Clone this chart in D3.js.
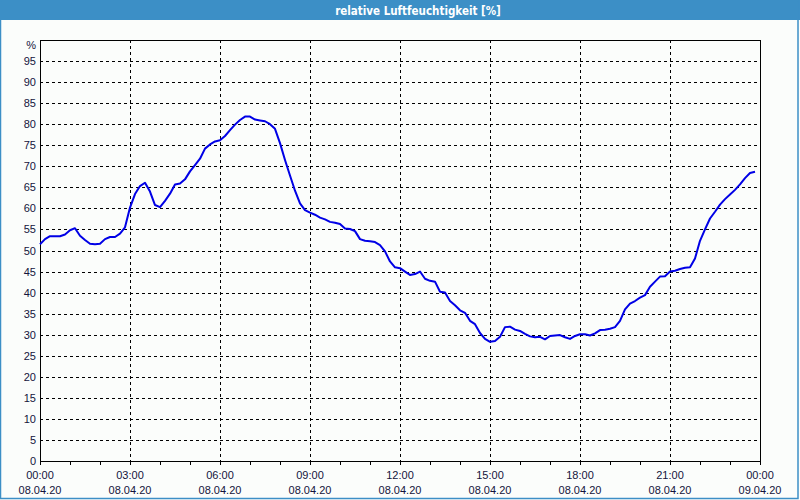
<!DOCTYPE html>
<html><head><meta charset="utf-8">
<script src="https://cdn.jsdelivr.net/npm/d3@7/dist/d3.min.js"></script>
<style>html,body{margin:0;padding:0;background:#fbfdfb;}svg{display:block;}</style>
</head><body>
<script>
const title = "relative Luftfeuchtigkeit [%]";
const unitLabel = "%";
const startTime = "2020-04-08T00:00:00";
const stepMinutes = 10;
const humidity = [
51.5,52.7,53.4,53.4,53.4,53.8,54.8,55.3,53.5,52.5,51.6,51.5,
51.6,52.7,53.2,53.2,54.0,55.5,60.2,63.4,65.3,66.1,64.0,60.8,
60.3,61.8,63.5,65.7,65.9,66.9,68.8,70.3,71.8,74.2,75.2,75.9,
76.2,77.2,78.6,79.9,81.0,81.8,81.8,81.1,80.9,80.7,80.0,78.9,
75.5,71.5,67.8,64.2,61.2,59.6,59.0,58.5,57.8,57.4,56.8,56.6,
56.3,55.2,55.1,54.6,52.7,52.3,52.2,52.0,51.3,49.8,47.4,46.0,
45.8,45.0,44.2,44.4,45.0,43.3,42.8,42.6,40.2,40.0,38.0,37.0,
35.8,35.2,33.3,32.5,30.4,29.0,28.3,28.5,29.5,31.8,31.9,31.2,
30.9,30.2,29.6,29.4,29.5,28.9,29.7,29.8,29.9,29.4,29.0,29.7,
30.1,30.1,29.8,30.3,31.1,31.2,31.4,31.8,33.3,36.0,37.4,38.0,
38.8,39.4,41.4,42.6,43.8,43.9,45.0,45.2,45.6,45.9,46.0,48.1,
52.3,55.0,57.6,59.2,60.9,62.2,63.3,64.4,65.7,67.2,68.4,68.7
];
const yTicks = [0,5,10,15,20,25,30,35,40,45,50,55,60,65,70,75,80,85,90,95];
const xTickHours = [0,3,6,9,12,15,18,21,24];

(function(){
const W = 800, H = 500;
const pL = 40, pR = 760, pT = 40, pB = 461;
const svg = d3.select("body").append("svg").attr("width", W).attr("height", H);
svg.append("rect").attr("x",0).attr("y",0).attr("width",W).attr("height",H).attr("fill","#fbfdfb");

// title bar
svg.append("rect").attr("x",0).attr("y",0).attr("width",W).attr("height",20).attr("fill","#3c8fc6");
svg.append("text").attr("x",418).attr("y",14.5).attr("text-anchor","middle")
  .attr("fill","#ffffff").attr("font-family","'DejaVu Sans Condensed','DejaVu Sans',sans-serif")
  .attr("font-weight","bold").attr("font-size","11.5px").text(title);
// frame
svg.append("rect").attr("x",0.5).attr("y",0.5).attr("width",797.5).attr("height",498)
  .attr("fill","none").attr("stroke","#3c8fc6").attr("stroke-width",1.5);

const t0 = new Date(startTime);
const parse = i => new Date(t0.getTime() + i*stepMinutes*60000);
const x = d3.scaleTime().domain([t0, new Date(t0.getTime()+24*3600000)]).range([pL, pR]);
const y = d3.scaleLinear().domain([0,100]).range([pB, pT]);

const g = svg.append("g");
g.selectAll("line.hg").data(yTicks.filter(v=>v>0)).enter().append("line")
  .attr("x1",pL).attr("x2",pR).attr("y1",d=>Math.round(y(d))+0.5).attr("y2",d=>Math.round(y(d))+0.5)
  .attr("stroke","#000").attr("stroke-width",1).attr("stroke-dasharray","3,3");
const hourDate = h => new Date(t0.getTime()+h*3600000);
g.selectAll("line.vg").data(xTickHours.filter(h=>h>0&&h<24)).enter().append("line")
  .attr("x1",d=>Math.round(x(hourDate(d)))+0.5).attr("x2",d=>Math.round(x(hourDate(d)))+0.5)
  .attr("y1",pT).attr("y2",pB)
  .attr("stroke","#000").attr("stroke-width",1).attr("stroke-dasharray","3,3");

g.selectAll("line.mt").data(d3.range(0,25)).enter().append("line")
  .attr("x1",d=>Math.round(x(hourDate(d)))+0.5).attr("x2",d=>Math.round(x(hourDate(d)))+0.5)
  .attr("y1",pB).attr("y2",pB+4).attr("stroke","#000");

g.append("rect").attr("x",pL+0.5).attr("y",pT+0.5).attr("width",pR-pL).attr("height",pB-pT)
  .attr("fill","none").attr("stroke","#000").attr("stroke-width",1);

const lblColor = "#14143c";
const font = "'Liberation Sans',Arial,sans-serif";
g.selectAll("text.yl").data(yTicks).enter().append("text")
  .attr("x",36).attr("y",d=>y(d)+4).attr("text-anchor","end")
  .attr("font-family",font).attr("font-size","11px").attr("fill",lblColor).text(d=>d);
g.append("text").attr("x",36).attr("y",y(100)+9).attr("text-anchor","end")
  .attr("font-family",font).attr("font-size","11px").attr("fill",lblColor).text(unitLabel);

const fT = d3.timeFormat("%H:%M"), fD = d3.timeFormat("%d.%m.%y");
xTickHours.forEach(h=>{
  const d = hourDate(h);
  g.append("text").attr("x",x(d)).attr("y",479).attr("text-anchor","middle")
    .attr("font-family",font).attr("font-size","11px").attr("fill",lblColor).text(fT(d));
  g.append("text").attr("x",x(d)).attr("y",494).attr("text-anchor","middle")
    .attr("font-family",font).attr("font-size","11px").attr("fill",lblColor).text(fD(d));
});

const line = d3.line().x((d,i)=>x(parse(i))).y(d=>y(d));
g.append("path").datum(humidity).attr("d",line).attr("fill","none")
  .attr("stroke","#0000e6").attr("stroke-width",2).attr("stroke-linejoin","round");
})();
</script>
</body></html>
